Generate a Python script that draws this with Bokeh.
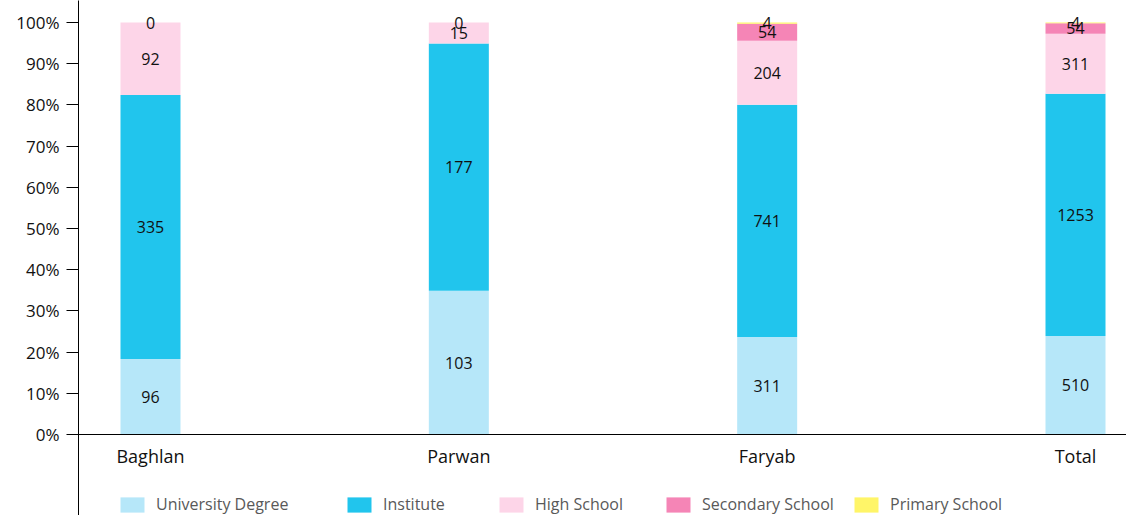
from bokeh.plotting import figure
from bokeh.models import (ColumnDataSource, Range1d, FixedTicker, NumeralTickFormatter,
                          Span, Legend, LegendItem)
from bokeh.core.properties import value
from bokeh.embed import file_html
from bokeh.resources import INLINE

categories = ["Baghlan", "Parwan", "Faryab", "Total"]
series_names = ["University Degree", "Institute", "High School", "Secondary School", "Primary School"]
university = [96, 103, 311, 510]
institute = [335, 177, 741, 1253]
high_school = [92, 15, 204, 311]
secondary = [0, 0, 54, 54]
primary = [0, 0, 4, 4]
colors = ["#B6E7F9", "#21C5ED", "#FDD5E8", "#F585B6", "#FFF568"]
y_ticks = [0, 0.1, 0.2, 0.3, 0.4, 0.5, 0.6, 0.7, 0.8, 0.9, 1.0]

series = [university, institute, high_school, secondary, primary]
keys = ["s%d" % i for i in range(len(series))]
xs = list(range(len(categories)))
totals = [sum(s[i] for s in series) for i in xs]

data = {"x": xs, "cat": categories}
for k, s in zip(keys, series):
    data[k] = [v / t for v, t in zip(s, totals)]
src = ColumnDataSource(data)

FONT = "Open Sans"
p = figure(width=1126, height=515, output_backend="svg", toolbar_location=None,
           x_range=Range1d(-0.2335, 3.1654), y_range=Range1d(-0.1966, 1.0534),
           min_border_left=78, min_border_right=0, min_border_top=0, min_border_bottom=0)
p.outline_line_color = None
p.xgrid.visible = False
p.ygrid.visible = False
p.xaxis.visible = False

renderers = p.vbar_stack(keys, x="x", width=0.1946, source=src, color=colors, line_color=None)

# value labels (one label where coincident zero segments overlap)
lx, ly, lt = [], [], []
seen = set()
for i in xs:
    base = 0.0
    for s in series:
        frac = s[i] / totals[i]
        pos = (i, round(base + frac / 2, 6))
        if pos not in seen:
            seen.add(pos)
            lx.append(i)
            ly.append(base + frac / 2)
            lt.append(str(s[i]))
        base += frac
p.text(x=lx, y=ly, text=lt, text_align="center", text_baseline="middle",
       text_font=value(FONT), text_font_size="16px", text_color="#111111")

# category labels
p.text(x=xs, y=[-0.052] * len(xs), text=categories, text_align="center", text_baseline="middle",
       text_font=value(FONT), text_font_size="18px", text_color="#111111")

p.add_layout(Span(location=0, dimension="width", line_color="black", line_width=1))

ya = p.yaxis[0]
ya.ticker = FixedTicker(ticks=y_ticks)
ya.formatter = NumeralTickFormatter(format="0%")
ya.minor_tick_line_color = None
ya.major_tick_in = 0
ya.major_tick_out = 12
ya.major_tick_line_color = "black"
ya.axis_line_color = "black"
ya.major_label_text_font = FONT
ya.major_label_text_font_size = "17px"
ya.major_label_text_color = "#111111"
ya.major_label_standoff = 7

legend_x = [39, 266, 418, 585, 773]
for name, r, lxp in zip(series_names, renderers, legend_x):
    lg = Legend(items=[LegendItem(label=name, renderers=[r])], location=(lxp, 0),
                glyph_width=30, glyph_height=19, label_height=19, label_standoff=9,
                padding=0, margin=0, border_line_color=None, background_fill_alpha=0,
                label_text_font=FONT, label_text_font_size="16px", label_text_color="#595959")
    p.add_layout(lg)

open("out.html", "w").write(file_html(p, INLINE))
